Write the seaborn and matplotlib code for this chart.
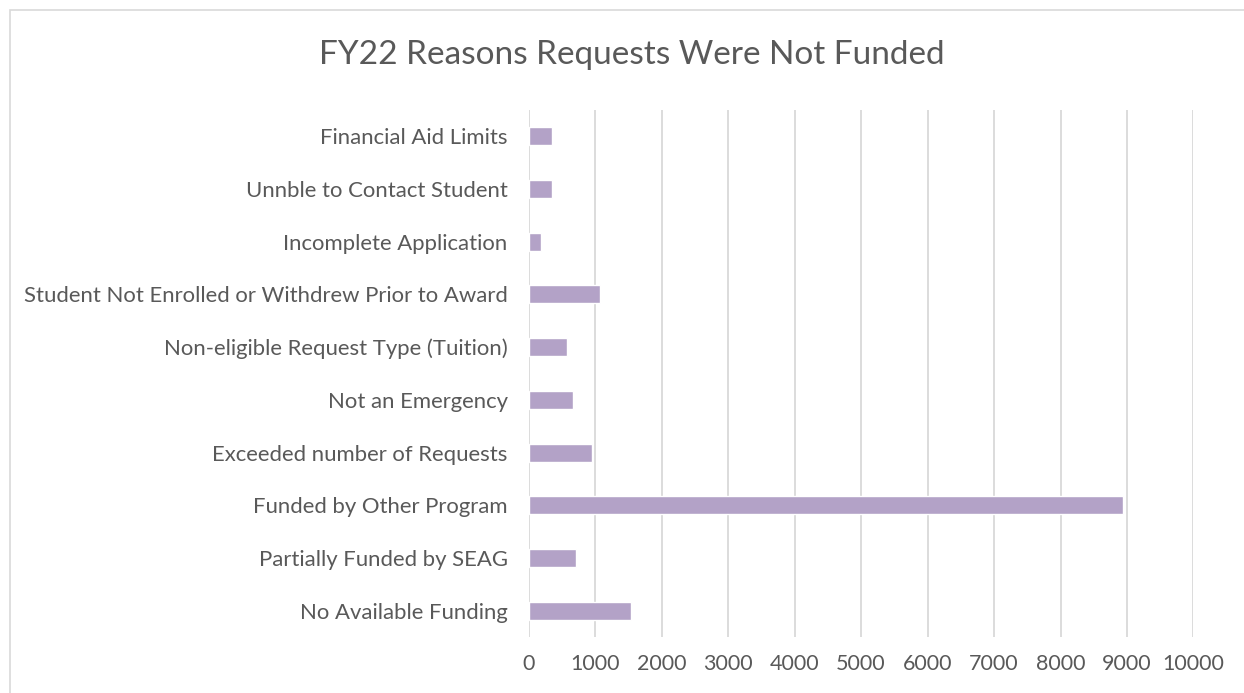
import pandas as pd
import seaborn as sns
import matplotlib.pyplot as plt
from matplotlib.patches import Rectangle

# reasons, top to bottom as in the chart
reasons = [
    'Financial Aid Limits',
    'Unnble to Contact Student',
    'Incomplete Application',
    'Student Not Enrolled or Withdrew Prior to Award',
    'Non-eligible Request Type (Tuition)',
    'Not an Emergency',
    'Exceeded number of Requests',
    'Funded by Other Program',
    'Partially Funded by SEAG',
    'No Available Funding',
]
counts = [348, 348, 192, 1072, 577, 672, 957, 8945, 712, 1533]
x_ticks = [0, 1000, 2000, 3000, 4000, 5000, 6000, 7000, 8000, 9000, 10000]

df = pd.DataFrame({'reason': reasons, 'count': counts})

sns.set_style('white')
plt.rcParams['font.family'] = ['Lato', 'DejaVu Sans']
grey = '#595959'

fig = plt.figure(figsize=(12.44, 6.93), dpi=100)
ax = fig.add_axes([0.4249, 0.0808, 0.5345, 0.7605])

sns.barplot(data=df, y='reason', x='count', color='#B3A2C7', width=0.34,
            saturation=1, ax=ax, zorder=3)

ax.set_xlim(0, 10000)
ax.set_xticks(x_ticks)
ax.set_xticklabels([str(t) for t in x_ticks])
ax.set_xlabel('')
ax.set_ylabel('')
ax.grid(axis='x', color='#D9D9D9', linewidth=1.3, zorder=0)
ax.grid(axis='y', visible=False)
for s in ['top', 'right', 'bottom', 'left']:
    ax.spines[s].set_visible(False)
ax.tick_params(axis='both', length=0, colors=grey)
ax.tick_params(axis='y', pad=15, labelsize=15.9)
ax.tick_params(axis='x', pad=12, labelsize=15.5)

fig.text(0.508, 0.92, 'FY22 Reasons Requests Were Not Funded', ha='center',
         va='center', fontsize=24, color=grey)

# chart area border
fig.patches.append(Rectangle((10 / 1244, -0.01), 1.1, 1 - 10 / 693 + 0.01,
                             transform=fig.transFigure, fill=False,
                             edgecolor='#D9D9D9', linewidth=1.2))

fig.savefig('out.png', dpi=100)
